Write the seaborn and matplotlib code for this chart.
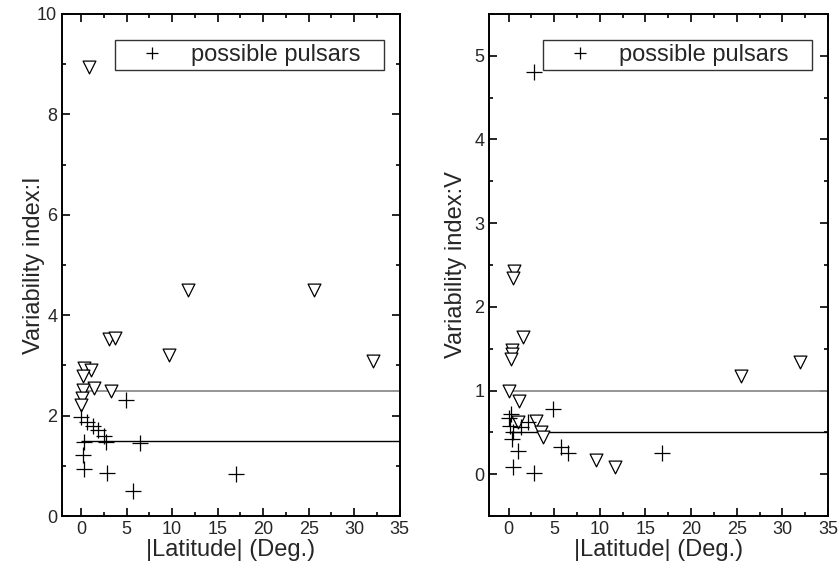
import matplotlib
matplotlib.use("Agg")
import matplotlib.pyplot as plt
from matplotlib.lines import Line2D
from matplotlib.ticker import MultipleLocator
import seaborn as sns
import pandas as pd

# panel I : open triangles
lat_tri_I = [0.9, 3.1, 3.7, 9.6, 11.7, 25.6, 32.1, 0.35, 1.1, 0.25, 1.45, 3.3, 0.2, 0.15, 0.0]
var_tri_I = [8.95, 3.52, 3.55, 3.21, 4.5, 4.5, 3.09, 2.94, 2.91, 2.79, 2.56, 2.50, 2.51, 2.36, 2.21]
# panel I : possible pulsars
lat_psr_I = [4.95, 0.0, 0.7, 1.3, 1.9, 2.55, 0.36, 2.75, 6.5, 0.25, 0.36, 2.86, 5.75, 17.0]
var_psr_I = [2.31, 1.98, 1.88, 1.79, 1.71, 1.59, 1.48, 1.48, 1.46, 1.22, 0.93, 0.86, 0.50, 0.84]

# panel V : open triangles
lat_tri_V = [0.55, 0.48, 1.57, 0.37, 0.33, 0.3, 0.0, 1.09, 1.03, 3.0, 3.57, 3.75, 9.57, 11.65, 25.5, 31.95]
var_tri_V = [2.43, 2.35, 1.64, 1.49, 1.44, 1.38, 0.99, 0.88, 0.62, 0.64, 0.50, 0.45, 0.17, 0.09, 1.18, 1.34]
# panel V : possible pulsars
lat_psr_V = [2.84, 0.22, 0.0, 0.19, 0.48, 0.4, 2.1, 1.39, 4.85, 1.02, 5.75, 6.55, 0.48, 2.84, 16.8]
var_psr_V = [4.80, 0.72, 0.67, 0.58, 0.50, 0.42, 0.62, 0.56, 0.78, 0.28, 0.33, 0.25, 0.09, 0.02, 0.25]

# threshold lines (gray upper, black lower)
thr_I = [2.5, 1.5]
thr_V = [1.0, 0.5]

sns.set_style("ticks")
plt.rcParams["font.family"] = ["Liberation Sans", "DejaVu Sans"]
plt.rcParams["axes.linewidth"] = 1.4

fig = plt.figure(figsize=(8.38, 5.78), dpi=100)
ax1 = fig.add_axes([0.074, 0.107, 0.403, 0.869])
ax2 = fig.add_axes([0.584, 0.107, 0.404, 0.869])


def draw_panel(ax, lt, vt, lp, vp, thr, ylim, ymaj, ymin, ylabel, ylab_x):
    tri = pd.DataFrame({"lat": lt, "var": vt})
    psr = pd.DataFrame({"lat": lp, "var": vp})
    ax.hlines(thr[0], 0, 35, color="#8c8c8c", lw=1.3, zorder=1)
    ax.hlines(thr[1], 0, 35, color="black", lw=1.0, zorder=1)
    sns.scatterplot(data=tri, x="lat", y="var", ax=ax, marker="v", s=85,
                    facecolor="white", edgecolor="black", linewidth=0.9,
                    legend=False, zorder=3)
    sns.scatterplot(data=psr, x="lat", y="var", ax=ax, marker="+", s=120,
                    color="black", linewidth=0.9, legend=False, zorder=3)
    ax.set_xlim(-2.1, 35)
    ax.set_ylim(*ylim)
    ax.xaxis.set_major_locator(MultipleLocator(5))
    ax.xaxis.set_minor_locator(MultipleLocator(2.5))
    ax.yaxis.set_major_locator(MultipleLocator(ymaj))
    ax.yaxis.set_minor_locator(MultipleLocator(ymin))
    ax.tick_params(which="both", direction="in", top=True, right=True,
                   width=1.2, labelsize=13, color="black")
    ax.tick_params(which="major", length=6)
    ax.tick_params(which="minor", length=3)
    ax.set_xlabel("|Latitude| (Deg.)", fontsize=17, labelpad=1)
    ax.set_ylabel(ylabel, fontsize=17)
    ax.yaxis.set_label_coords(ylab_x, 0.5)
    for sp in ax.spines.values():
        sp.set_color("black")
    handle = Line2D([], [], marker="+", color="black", ls="none",
                    markersize=8, markeredgewidth=0.9)
    leg = ax.legend([handle], ["possible pulsars   "], loc="upper right",
                    bbox_to_anchor=(0.952, 0.947), fontsize=17, frameon=True,
                    fancybox=False, handlelength=2.8, handletextpad=0.25,
                    borderpad=0.15, borderaxespad=0)
    leg.get_frame().set_edgecolor("black")
    leg.get_frame().set_linewidth(1.0)


draw_panel(ax1, lat_tri_I, var_tri_I, lat_psr_I, var_psr_I, thr_I,
           (0, 10), 2, 1, "Variability index:I", -0.05)
draw_panel(ax2, lat_tri_V, var_tri_V, lat_psr_V, var_psr_V, thr_V,
           (-0.5, 5.5), 1, 0.5, "Variability index:V", -0.065)

fig.savefig("out.png", dpi=100)
